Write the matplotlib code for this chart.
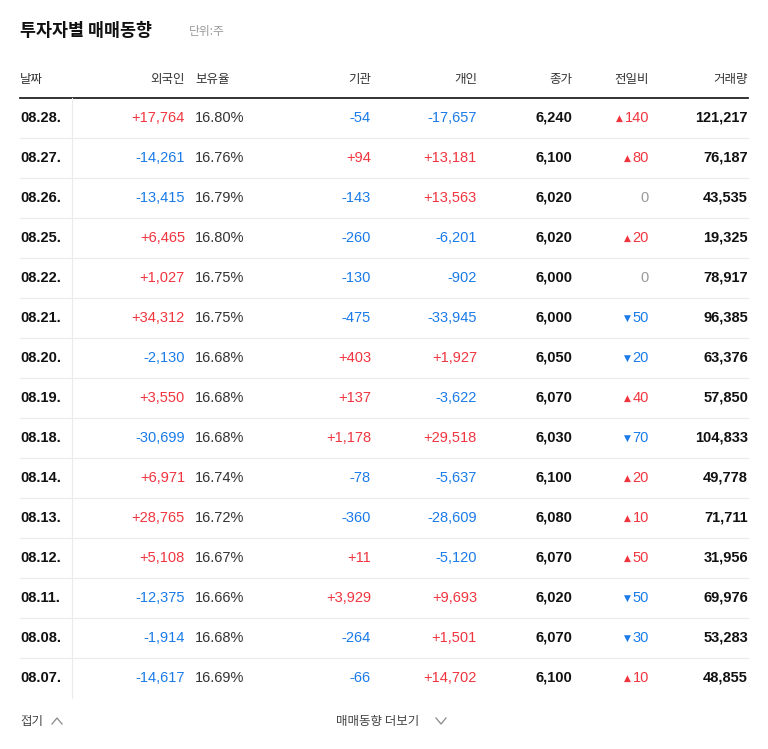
import matplotlib
matplotlib.use("Agg")
import matplotlib.pyplot as plt

dates = ["08.28.","08.27.","08.26.","08.25.","08.22.","08.21.","08.20.","08.19.","08.18.","08.14.","08.13.","08.12.","08.11.","08.08.","08.07."]
foreign = [17764,-14261,-13415,6465,1027,34312,-2130,3550,-30699,6971,28765,5108,-12375,-1914,-14617]
holding = [16.80,16.76,16.79,16.80,16.75,16.75,16.68,16.68,16.68,16.74,16.72,16.67,16.66,16.68,16.69]
inst = [-54,94,-143,-260,-130,-475,403,137,1178,-78,-360,11,3929,-264,-66]
indiv = [-17657,13181,13563,-6201,-902,-33945,1927,-3622,29518,-5637,-28609,-5120,9693,1501,14702]
close = [6240,6100,6020,6020,6000,6000,6050,6070,6030,6100,6080,6070,6020,6070,6100]
change = [140,80,0,20,0,-50,-20,40,-70,20,10,50,-50,-30,10]
volume = [121217,76187,43535,19325,78917,96385,63376,57850,104833,49778,71711,31956,69976,53283,48855]
headers = ["날짜","외국인","보유율","기관","개인","종가","전일비","거래량"]

RED, BLUE, GRAY, BLACK = "#f0353f", "#1a7be8", "#999999", "#111111"
plt.rcParams["font.family"] = ["Noto Sans CJK KR", "Noto Sans CJK JP", "Noto Sans CJK SC", "DejaVu Sans"]
NUM = "Liberation Sans"

fig = plt.figure(figsize=(7.68, 7.49), dpi=100)
ax = fig.add_axes([0, 0, 1, 1])
ax.set_xlim(0, 768); ax.set_ylim(749, 0); ax.axis("off")

ax.text(20, 31, "투자자별 매매동향", fontsize=12.5, fontweight="bold", color=BLACK, va="center")
ax.text(189, 31, "단위:주", fontsize=8.5, color=GRAY, va="center")

hx = [(20,"left"),(185,"right"),(195,"left"),(371,"right"),(477,"right"),(572,"right"),(649,"right"),(748,"right")]
for (x, ha), h in zip(hx, headers):
    ax.text(x, 80, h, fontsize=9, color="#333333", ha=ha, va="center")
ax.plot([20, 748], [98, 98], color="#222222", lw=1.3)

def sgn(v):
    return (f"+{v:,}", RED) if v > 0 else (f"{v:,}", BLUE)

y0, dy = 118, 40
fs = 10.5
for i in range(len(dates)):
    y = y0 + i * dy
    ax.text(20, y, dates[i], fontsize=fs, fontweight="bold", color=BLACK, va="center", family=NUM)
    t, c = sgn(foreign[i]); ax.text(185, y, t, fontsize=fs, color=c, ha="right", va="center", family=NUM)
    ax.text(195, y, f"{holding[i]:.2f}%", fontsize=fs, color="#333333", va="center", family=NUM)
    t, c = sgn(inst[i]); ax.text(371, y, t, fontsize=fs, color=c, ha="right", va="center", family=NUM)
    t, c = sgn(indiv[i]); ax.text(477, y, t, fontsize=fs, color=c, ha="right", va="center", family=NUM)
    ax.text(572, y, f"{close[i]:,}", fontsize=fs, fontweight="bold", color=BLACK, ha="right", va="center", family=NUM)
    ch = change[i]
    if ch == 0:
        ax.text(649, y, "0", fontsize=fs, color=GRAY, ha="right", va="center", family=NUM)
    else:
        c = RED if ch > 0 else BLUE
        ax.text(649, y, f"{abs(ch)}", fontsize=fs, color=c, ha="right", va="center", family=NUM)
        ax.text(649 - 8.2 * len(str(abs(ch))) - 2, y, "▲" if ch > 0 else "▼", fontsize=6.5,
                color=c, ha="right", va="center", family="DejaVu Sans")
    ax.text(748, y, f"{volume[i]:,}", fontsize=fs, fontweight="bold", color=BLACK, ha="right", va="center", family=NUM)
    if i < len(dates) - 1:
        ax.plot([20, 748], [y + 20, y + 20], color="#ebebeb", lw=0.8)

ax.plot([72, 72], [98, 698], color="#ebebeb", lw=0.8)

ax.text(20, 721, "접기", fontsize=9, color="#444444", va="center")
ax.plot([52, 57, 62], [724, 718, 724], color="#888888", lw=0.9)
ax.text(378, 721, "매매동향 더보기", fontsize=9, color="#444444", ha="center", va="center")
ax.plot([436, 441, 446], [718, 724, 718], color="#888888", lw=0.9)

fig.savefig("out.png", dpi=100)
